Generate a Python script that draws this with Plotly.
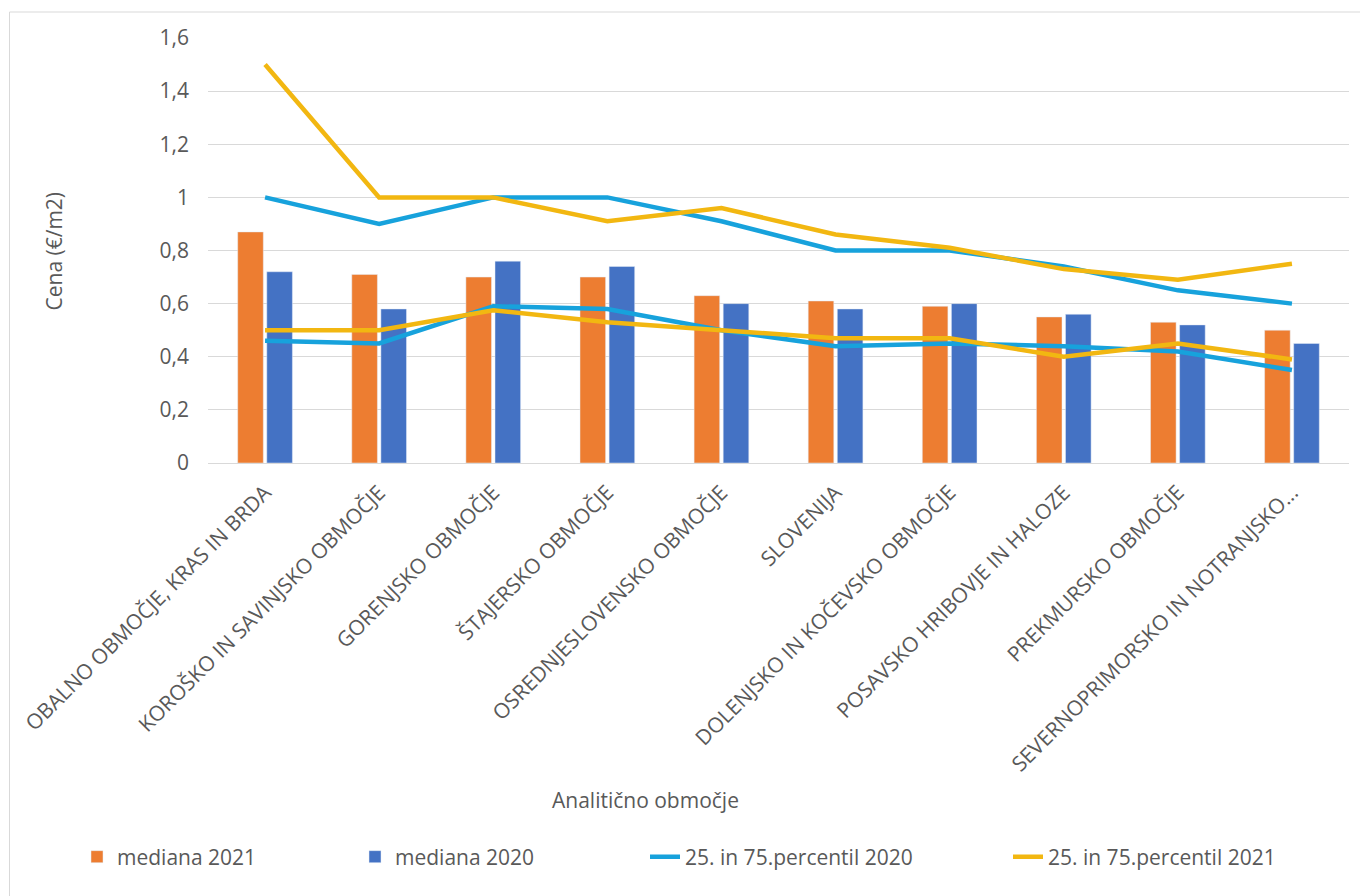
import plotly.graph_objects as go

categories = [
    "OBALNO OBMOČJE, KRAS IN BRDA",
    "KOROŠKO IN SAVINJSKO OBMOČJE",
    "GORENJSKO OBMOČJE",
    "ŠTAJERSKO OBMOČJE",
    "OSREDNJESLOVENSKO OBMOČJE",
    "SLOVENIJA",
    "DOLENJSKO IN KOČEVSKO OBMOČJE",
    "POSAVSKO HRIBOVJE IN HALOZE",
    "PREKMURSKO OBMOČJE",
    "SEVERNOPRIMORSKO IN NOTRANJSKO...",
]
mediana_2021 = [0.87, 0.71, 0.70, 0.70, 0.63, 0.61, 0.59, 0.55, 0.53, 0.50]
mediana_2020 = [0.72, 0.58, 0.76, 0.74, 0.60, 0.58, 0.60, 0.56, 0.52, 0.45]
p75_2020 = [1.00, 0.90, 1.00, 1.00, 0.91, 0.80, 0.80, 0.74, 0.65, 0.60]
p25_2020 = [0.46, 0.45, 0.59, 0.58, 0.50, 0.44, 0.45, 0.44, 0.42, 0.35]
p75_2021 = [1.50, 1.00, 1.00, 0.91, 0.96, 0.86, 0.81, 0.73, 0.69, 0.75]
p25_2021 = [0.50, 0.50, 0.575, 0.53, 0.50, 0.47, 0.47, 0.40, 0.45, 0.39]
y_ticks = [0, 0.2, 0.4, 0.6, 0.8, 1.0, 1.2, 1.4, 1.6]
y_ticktext = ["0", "0,2", "0,4", "0,6", "0,8", "1", "1,2", "1,4", "1,6"]

C_OR = "#ED7D31"
C_BL = "#4472C4"
C_L20 = "#17A2DC"
C_L21 = "#F2B711"
TXT = "#595959"
GRID = "#D9D9D9"
FONT = "Open Sans"

# pixel layout of the plot area
L, R, T, B = 208, 11, 38, 433
W, H = 1360, 896
pw = W - L - R
ph = H - T - B

def px_x(x):
    return (x - L) / pw

def px_y(y):
    return (H - B - y) / ph

fig = go.Figure()
fig.add_trace(go.Bar(x=categories, y=mediana_2021, name="mediana 2021",
                     marker_color=C_OR, legend="legend", showlegend=True))
fig.add_trace(go.Bar(x=categories, y=mediana_2020, name="mediana 2020",
                     marker_color=C_BL, legend="legend2"))
fig.add_trace(go.Scatter(x=categories, y=p75_2020, mode="lines",
                         name="25. in 75.percentil 2020", legendgroup="l20",
                         line=dict(color=C_L20, width=4.5), legend="legend3"))
fig.add_trace(go.Scatter(x=categories, y=p25_2020, mode="lines",
                         name="25. in 75.percentil 2020", legendgroup="l20",
                         showlegend=False,
                         line=dict(color=C_L20, width=4.5), legend="legend3"))
fig.add_trace(go.Scatter(x=categories, y=p75_2021, mode="lines",
                         name="25. in 75.percentil 2021", legendgroup="l21",
                         line=dict(color=C_L21, width=4.5), legend="legend4"))
fig.add_trace(go.Scatter(x=categories, y=p25_2021, mode="lines",
                         name="25. in 75.percentil 2021", legendgroup="l21",
                         showlegend=False,
                         line=dict(color=C_L21, width=4.5), legend="legend4"))

legend_common = dict(orientation="h", yanchor="middle", xanchor="left",
                     font=dict(family=FONT, size=21, color=TXT),
                     bgcolor="rgba(0,0,0,0)", itemclick=False,
                     visible=True)
ly = px_y(857)

fig.update_layout(
    width=W, height=H,
    showlegend=True,
    margin=dict(l=L, r=R, t=T, b=B, pad=0),
    paper_bgcolor="white", plot_bgcolor="white",
    font=dict(family=FONT, size=21, color=TXT),
    barmode="group", bargap=0.49, bargroupgap=0.12,
    xaxis=dict(type="category", tickangle=-45, showgrid=False,
               showline=True, linecolor=GRID, linewidth=1,
               ticks="", tickfont=dict(family=FONT, size=21, color=TXT),
               ticklabelstandoff=8, automargin=False),
    yaxis=dict(range=[0, 1.6], tickvals=y_ticks, ticktext=y_ticktext,
               showgrid=True, gridcolor=GRID, gridwidth=1,
               zeroline=False, showline=False, ticks="",
               tickfont=dict(family=FONT, size=21, color=TXT),
               ticklabelstandoff=18, automargin=False),
    legend=dict(x=px_x(77), y=ly, **legend_common),
    legend2=dict(x=px_x(355), y=ly, **legend_common),
    legend3=dict(x=px_x(645), y=ly, **legend_common),
    legend4=dict(x=px_x(1008), y=ly, **legend_common),
    annotations=[
        dict(text="Analitično območje", xref="paper", yref="paper",
             x=px_x(645), y=px_y(800), showarrow=False,
             xanchor="center", yanchor="middle",
             font=dict(family=FONT, size=21, color=TXT)),
        dict(text="Cena (€/m2)", xref="paper", yref="paper",
             x=px_x(53), y=0.5, showarrow=False, textangle=-90,
             xanchor="center", yanchor="middle",
             font=dict(family=FONT, size=21, color=TXT)),
    ],
    shapes=[
        dict(type="rect", xref="paper", yref="paper",
             x0=px_x(9.5), y0=px_y(12), x1=px_x(1380), y1=px_y(920),
             line=dict(color=GRID, width=1), fillcolor="rgba(0,0,0,0)",
             layer="below"),
    ],
)

fig.write_html("out.html")
